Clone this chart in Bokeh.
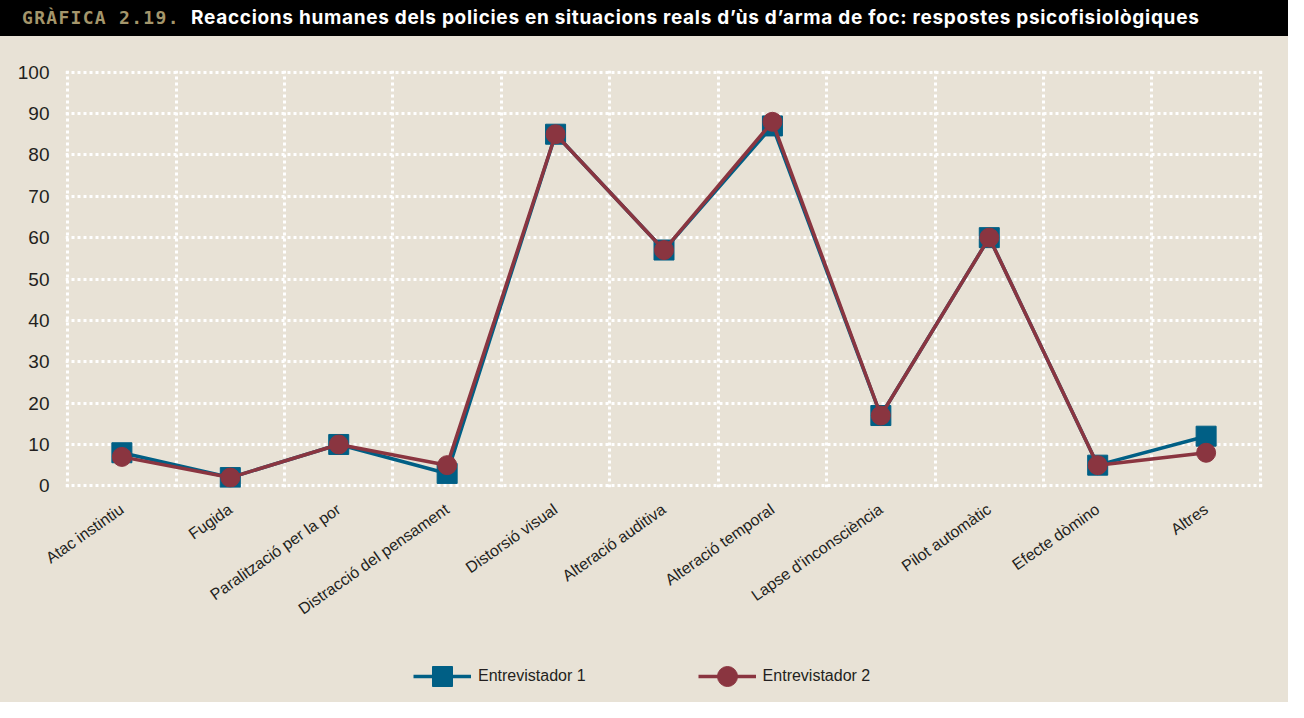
from bokeh.plotting import figure
from bokeh.models import FixedTicker, Legend, LegendItem, Range1d, Div
from bokeh.layouts import column
from bokeh.embed import file_html
from bokeh.resources import INLINE

categories = ["Atac instintiu", "Fugida", "Paralització per la por", "Distracció del pensament",
              "Distorsió visual", "Alteració auditiva", "Alteració temporal", "Lapse d'inconsciència",
              "Pilot automàtic", "Efecte dòmino", "Altres"]
entrevistador1 = [8, 2, 10, 3, 85, 57, 87, 17, 60, 5, 12]
entrevistador2 = [7, 2, 10, 5, 85, 57, 88, 17, 60, 5, 8]
yticks = [0, 10, 20, 30, 40, 50, 60, 70, 80, 90, 100]
series_names = ["Entrevistador 1", "Entrevistador 2"]
title_code = "GRÀFICA 2.19."
title_text = "Reaccions humanes dels policies en situacions reals d’ùs d’arma de foc: respostes psicofisiològiques"

BG = "#e8e2d6"
BLUE = "#005f85"
RED = "#8a3540"
FONT = "Liberation Sans"
NAN = float("nan")

W = 1288
TH = 36
LH = 54
MH = 702 - TH - LH

title_html = (
    '<div style="width:%dpx;height:%dpx;line-height:%dpx;background:#000;white-space:nowrap;'
    'overflow:hidden;box-sizing:border-box;padding-left:22px;margin:0;">'
    '<span style="display:inline-block;width:169px;font-family:\'DejaVu Sans Mono\';font-weight:bold;'
    'font-size:18px;letter-spacing:1.3px;color:#a4966b;">%s</span>'
    '<span style="font-family:Inter;font-weight:700;font-size:19px;letter-spacing:0.7px;color:#ffffff;">%s</span>'
    '</div>' % (W, TH, TH, title_code, title_text)
)
title_div = Div(text=title_html, width=W, height=TH, margin=0)

xs = [i + 0.5 for i in range(len(categories))]

p = figure(width=W, height=MH, toolbar_location=None, output_backend="svg",
           x_range=Range1d(-0.02, len(categories) + 0.02), y_range=Range1d(-0.4, 100.4),
           min_border_left=65, min_border_right=26, min_border_top=34, min_border_bottom=MH - 34 - 417,
           background_fill_color=None, border_fill_color=BG, outline_line_color=None, margin=0)

p.xaxis.ticker = FixedTicker(ticks=xs)
p.xaxis.major_label_overrides = {x: c for x, c in zip(xs, categories)}
p.xgrid.ticker = FixedTicker(ticks=list(range(len(categories) + 1)))
p.yaxis.ticker = FixedTicker(ticks=yticks)
p.ygrid.ticker = FixedTicker(ticks=yticks)
for g in (p.xgrid, p.ygrid):
    g.grid_line_color = "white"
    g.grid_line_width = 3
    g.grid_line_dash = "3 3"
    g.grid_line_alpha = 1

for ax in (p.xaxis, p.yaxis):
    ax.axis_line_color = None
    ax.major_tick_line_color = None
    ax.minor_tick_line_color = None
    ax.major_tick_out = 0
    ax.major_tick_in = 0
    ax.major_label_text_font = FONT
    ax.major_label_text_color = "#231f20"

p.yaxis.major_label_text_font_size = "19px"
p.yaxis.major_label_standoff = 16
p.xaxis.major_label_text_font_size = "16px"
p.xaxis.major_label_orientation = 35 * 3.14159265 / 180
p.xaxis.major_label_standoff = 20

p.line(xs, entrevistador1, line_color=BLUE, line_width=3.5)
p.scatter(xs, entrevistador1, marker="square", size=20, fill_color=BLUE, line_color=BLUE)
p.line(xs, entrevistador2, line_color=RED, line_width=3.5)
p.scatter(xs, entrevistador2, marker="circle", size=19, fill_color=RED, line_color=RED)

# legend strip (same styles as the series above; placeholder renderers carry no visible data)
lf = figure(width=W, height=LH, toolbar_location=None, output_backend="svg",
            x_range=Range1d(0, 1), y_range=Range1d(0, 1), x_axis_location=None, y_axis_location=None,
            min_border_left=65, min_border_right=26, min_border_top=0, min_border_bottom=0,
            background_fill_color=None, border_fill_color=BG, outline_line_color=None, margin=0)
lf.grid.visible = False
ll1 = lf.line(x=[NAN], y=[NAN], line_color=BLUE, line_width=3.5)
ls1 = lf.scatter(x=[NAN], y=[NAN], marker="square", size=20, fill_color=BLUE, line_color=BLUE)
ll2 = lf.line(x=[NAN], y=[NAN], line_color=RED, line_width=3.5)
ls2 = lf.scatter(x=[NAN], y=[NAN], marker="circle", size=19, fill_color=RED, line_color=RED)
legend = Legend(items=[LegendItem(label=series_names[0], renderers=[ll1, ls1]),
                       LegendItem(label=series_names[1], renderers=[ll2, ls2])],
                orientation="horizontal", location=(348, 1),
                glyph_width=58, glyph_height=50, label_standoff=7, spacing=112,
                padding=0, margin=0, border_line_color=None, background_fill_alpha=0,
                label_text_font=FONT, label_text_font_size="16px", label_text_color="#231f20")
lf.add_layout(legend, "center")

layout = column(title_div, p, lf, spacing=0, styles={"background-color": BG})
open("out.html", "w").write(file_html(layout, INLINE))
